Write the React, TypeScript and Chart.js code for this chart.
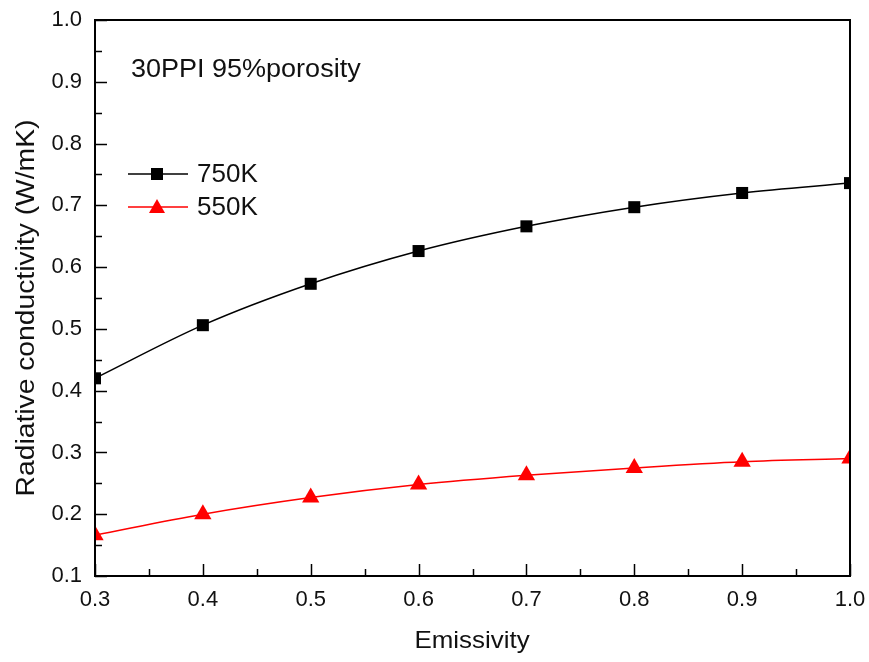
import React, { useEffect, useRef } from "react";
import { Chart, registerables } from "chart.js";

Chart.register(...registerables);

const emissivity = [0.3, 0.4, 0.5, 0.6, 0.7, 0.8, 0.9, 1.0];
const k750 = [0.42, 0.506, 0.573, 0.626, 0.666, 0.697, 0.72, 0.736];
const k550 = [0.166, 0.2, 0.227, 0.248, 0.263, 0.275, 0.285, 0.29];
const seriesLabels = ["750K", "550K"];
const seriesColors = ["#000000", "#ff0000"];
const annotationText = "30PPI 95%porosity";
const xTitle = "Emissivity";
const yTitle = "Radiative conductivity (W/mK)";
const FONT = "'Liberation Sans', Arial, sans-serif";

const framePlugin = {
  id: "frame",
  afterDatasetsDraw(chart: any) {
    const { ctx, chartArea, scales } = chart;
    const { left, right, top, bottom } = chartArea;
    ctx.save();
    ctx.strokeStyle = "#000";
    ctx.lineWidth = 1.5;
    const xs = scales.x;
    const ys = scales.y;
    for (let i = 0; i <= 14; i++) {
      const v = 0.3 + i * 0.05;
      const px = Math.round(xs.getPixelForValue(v)) + 0.5;
      const len = i % 2 === 0 ? 12 : 7;
      ctx.beginPath();
      ctx.moveTo(px, bottom);
      ctx.lineTo(px, bottom - len);
      ctx.stroke();
    }
    for (let i = 0; i <= 18; i++) {
      const v = 0.1 + i * 0.05;
      const py = Math.round(ys.getPixelForValue(v)) + 0.5;
      const len = i % 2 === 0 ? 12 : 7;
      ctx.beginPath();
      ctx.moveTo(left, py);
      ctx.lineTo(left + len, py);
      ctx.stroke();
    }
    ctx.lineWidth = 2;
    ctx.strokeRect(left, top, right - left, bottom - top);

    // annotation
    ctx.fillStyle = "#111";
    ctx.font = `25px ${FONT}`;
    ctx.textAlign = "left";
    ctx.textBaseline = "alphabetic";
    ctx.save();
    ctx.translate(131, 77);
    ctx.scale(1.08, 1);
    ctx.fillText(annotationText, 0, 0);
    ctx.restore();

    // legend
    const legendY = [174, 207];
    for (let i = 0; i < 2; i++) {
      const y = legendY[i];
      ctx.strokeStyle = seriesColors[i];
      ctx.lineWidth = 1.3;
      ctx.beginPath();
      ctx.moveTo(128, y);
      ctx.lineTo(188, y);
      ctx.stroke();
      ctx.fillStyle = seriesColors[i];
      if (i === 0) {
        ctx.fillRect(151, y - 6, 12, 12);
      } else {
        ctx.beginPath();
        ctx.moveTo(157, y - 8);
        ctx.lineTo(165, y + 6);
        ctx.lineTo(149, y + 6);
        ctx.closePath();
        ctx.fill();
      }
      ctx.fillStyle = "#111";
      ctx.font = `26px ${FONT}`;
      ctx.textBaseline = "middle";
      ctx.fillText(seriesLabels[i], 197, y + 1);
    }

    // axis titles
    ctx.fillStyle = "#111";
    ctx.font = `24px ${FONT}`;
    ctx.textAlign = "center";
    ctx.textBaseline = "alphabetic";
    ctx.save();
    ctx.translate(472, 648);
    ctx.scale(1.08, 1);
    ctx.fillText(xTitle, 0, 0);
    ctx.restore();
    ctx.font = `25px ${FONT}`;
    ctx.save();
    ctx.translate(34, 308);
    ctx.rotate(-Math.PI / 2);
    ctx.scale(1.13, 1);
    ctx.fillText(yTitle, 0, 0);
    ctx.restore();
    ctx.restore();
  },
};

export default function App() {
  const ref = useRef<HTMLCanvasElement>(null);
  useEffect(() => {
    document.body.style.margin = "0";
    const chart = new Chart(ref.current!, {
      type: "line",
      data: {
        datasets: [
          {
            label: seriesLabels[0],
            data: emissivity.map((x, i) => ({ x, y: k750[i] })),
            borderColor: seriesColors[0],
            backgroundColor: seriesColors[0],
            borderWidth: 1.5,
            pointStyle: "rect",
            pointRadius: 8.5,
            pointBorderWidth: 0,
            tension: 0.4,
            cubicInterpolationMode: "monotone",
          },
          {
            label: seriesLabels[1],
            data: emissivity.map((x, i) => ({ x, y: k550[i] })),
            borderColor: seriesColors[1],
            backgroundColor: seriesColors[1],
            borderWidth: 1.5,
            pointStyle: "triangle",
            pointRadius: 10,
            pointBorderWidth: 0,
            tension: 0.4,
            cubicInterpolationMode: "monotone",
          },
        ],
      },
      options: {
        responsive: false,
        animation: false,
        devicePixelRatio: 1,
        layout: { padding: { top: 20, right: 19, left: 0, bottom: 0 } },
        plugins: { legend: { display: false }, tooltip: { enabled: false } },
        scales: {
          x: {
            type: "linear",
            min: 0.3,
            max: 1.0,
            grid: { display: false, drawTicks: false },
            border: { display: false },
            ticks: {
              stepSize: 0.1,
              padding: 11,
              color: "#111",
              font: { size: 22, family: FONT },
              callback: (v: any) => Number(v).toFixed(1),
            },
            afterFit: (s: any) => {
              s.height = 86;
              s.paddingLeft = 0;
              s.paddingRight = 0;
            },
          },
          y: {
            type: "linear",
            min: 0.1,
            max: 1.0,
            grid: { display: false, drawTicks: false },
            border: { display: false },
            ticks: {
              stepSize: 0.1,
              padding: 13,
              color: "#111",
              font: { size: 22, family: FONT },
              callback: (v: any) => Number(v).toFixed(1),
            },
            afterFit: (s: any) => {
              s.width = 95;
              s.paddingTop = 0;
              s.paddingBottom = 0;
            },
          },
        },
      },
      plugins: [framePlugin],
    });
    return () => chart.destroy();
  }, []);
  return (
    <div style={{ width: 869, height: 662, background: "#fff" }}>
      <canvas ref={ref} width={869} height={662} />
    </div>
  );
}
